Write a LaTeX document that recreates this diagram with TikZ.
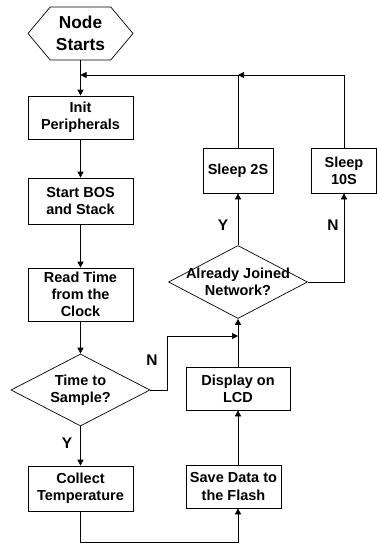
\documentclass[tikz,border=0pt]{standalone}
\usepackage{fontspec}
\setmainfont{Liberation Sans}
\usetikzlibrary{shapes.geometric,shapes.symbols,arrows.meta}
\begin{document}
\begin{tikzpicture}[x=1pt,y=-1pt,
  every node/.style={font=\bfseries\fontsize{14.5}{17.3}\selectfont, align=center, inner sep=0pt},
  box/.style={draw, rectangle, line width=0.7pt},
  dia/.style={draw, diamond, line width=0.7pt, minimum width=139pt, minimum height=72pt},
  lbl/.style={font=\bfseries\fontsize{15.5}{18}\selectfont},
  conn/.style={line width=0.7pt},
  arr/.style={conn, -{Triangle[length=6pt,width=6pt]}}]
\useasboundingbox (0,0) rectangle (377,544);
% nodes
\node[draw, signal, signal to=west and east, signal pointer angle=100,
      line width=0.7pt, minimum width=105pt, minimum height=53pt,
      font=\bfseries\fontsize{17.3}{21.7}\selectfont] (start) at (80.5,33.5) {Node\\Starts};
\node[box, minimum width=105pt, minimum height=43pt] (init) at (80.5,117.5) {Init\\Peripherals};
\node[box, minimum width=105pt, minimum height=46pt] (bos) at (80.5,201) {Start BOS\\and Stack};
\node[box, minimum width=105pt, minimum height=53pt] (read) at (80.5,294.5) {Read Time\\from the\\Clock};
\node[dia] (tts) at (80.5,390) {};
\node at (tts.center) {Time to\\Sample?};
\node[box, minimum width=105pt, minimum height=45pt] (collect) at (80.5,488.5) {Collect\\Temperature};
\node[box, minimum width=95pt, minimum height=43pt] (save) at (233.5,486.5) {Save Data to\\the Flash};
\node[box, minimum width=104pt, minimum height=43pt] (display) at (238,388.5) {Display on\\LCD};
\node[dia, minimum height=73pt] (ajn) at (238,282) {};
\node at (ajn.center) {Already Joined\\Network?};
\node[box, minimum width=70pt, minimum height=45pt] (sleep2) at (238,170.5) {Sleep 2S};
\node[box, minimum width=65pt, minimum height=45pt] (sleep10) at (344,170.5) {Sleep\\10S};
% labels
\node[lbl] (ly1) at (67,443) {Y};
\node[lbl] (ln1) at (152,360) {N};
\node[lbl] (ly2) at (223,225) {Y};
\node[lbl] (ln2) at (333,225) {N};
% helper coordinates
\coordinate (j1) at (238,75);
\coordinate (j0) at (80.5,75);
\coordinate (n1) at (238,336);
\coordinate (b1) at (80.5,542);
% connectors
\draw[arr] (start.south) -- (init.north);
\draw[arr] (init.south) -- (bos.north);
\draw[arr] (bos.south) -- (read.north);
\draw[arr] (read.south) -- (tts.north);
\draw[arr] (tts.south) -- (collect.north);
\draw[arr] (collect.south) -- (b1) -| (save.south -| display.south);
\draw[arr] (save.north -| display.south) -- (display.south);
\draw[arr] (display.north) -- (ajn.south);
\draw[arr] (tts.east) -- (167,390) -- (167,336) -- (n1);
\draw[arr] (ajn.north) -- (sleep2.south);
\draw[arr] (ajn.east) -| (sleep10.south);
\draw[conn] (sleep2.north) -- (j1);
\draw[arr] (sleep10.north) |- (j1);
\draw[arr] (j1) -- (j0);
\end{tikzpicture}
\end{document}
